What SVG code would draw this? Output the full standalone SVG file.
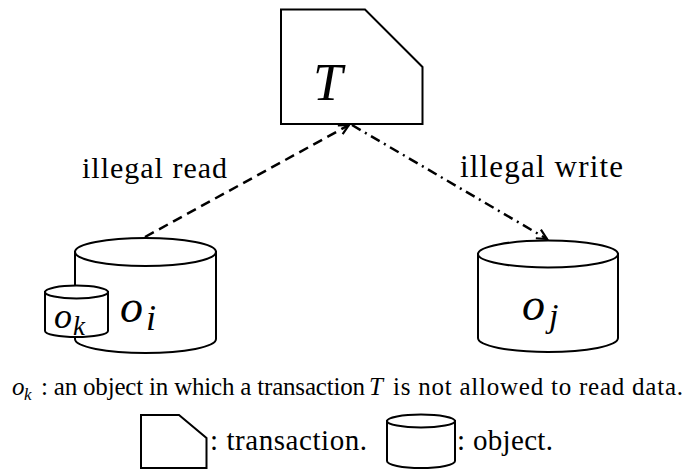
<svg xmlns="http://www.w3.org/2000/svg" width="688" height="472" viewBox="0 0 688 472">
  <defs>
    <style>
      .shape { fill: #fff; stroke: #000; stroke-width: 2; stroke-linejoin: miter; }
      .edge { fill: none; stroke: #000; stroke-width: 2.5; }
      .lbl { font-family: "Liberation Serif", "Times New Roman", serif; fill: #000; }
      .math { font-family: "Liberation Serif", "Times New Roman", serif; font-style: italic; fill: #000; }
    </style>
    <marker id="chev" markerUnits="userSpaceOnUse" markerWidth="14" markerHeight="14" refX="10" refY="5" orient="auto" overflow="visible">
      <path d="M0,0 L10,5 L0,10" fill="none" stroke="#000" stroke-width="2.2"/>
    </marker>
  </defs>

  <rect width="688" height="472" fill="#fff"/>

  <!-- transaction T -->
  <g id="node-T">
    <path class="shape" d="M281,9.5 L365,9.5 L422.5,67 L422.5,124 L281,124 Z"/>
    <text class="math" x="313" y="100" font-size="53">T</text>
  </g>

  <!-- object o_i with nested o_k -->
  <g id="node-oi">
    <path class="shape" d="M75,252 L75,339 A70.5,14 0 0 0 216,339 L216,252 Z"/>
    <ellipse class="shape" cx="145.5" cy="252" rx="70.5" ry="14"/>
    <text class="math" x="120" y="322" font-size="46">o</text>
    <text class="math" x="146" y="330" font-size="36">i</text>
  </g>

  <g id="node-ok">
    <path class="shape" d="M45,292 L45,331 A31.5,6 0 0 0 108,331 L108,292 Z"/>
    <ellipse class="shape" cx="76.5" cy="292" rx="31.5" ry="6.5"/>
    <text class="math" x="54" y="328" font-size="36">o</text>
    <text class="math" x="73" y="335" font-size="27">k</text>
  </g>

  <!-- object o_j -->
  <g id="node-oj">
    <path class="shape" d="M478,254 L478,338 A70,14 0 0 0 618,338 L618,254 Z"/>
    <ellipse class="shape" cx="548" cy="254" rx="70" ry="13.5"/>
    <text class="math" x="522" y="320" font-size="46">o</text>
    <text class="math" x="549" y="327" font-size="34">j</text>
  </g>

  <!-- connectors -->
  <g id="edges">
    <line class="edge" x1="145" y1="237" x2="349" y2="125" stroke-dasharray="10 6" marker-end="url(#chev)"/>
    <line class="edge" x1="352" y1="125" x2="547" y2="239" stroke-dasharray="10 5 2 5" marker-end="url(#chev)"/>
    <text class="lbl" x="82" y="178" font-size="30" textLength="145">illegal read</text>
    <text class="lbl" x="460" y="177" font-size="31" textLength="163">illegal write</text>
  </g>

  <!-- caption -->
  <g id="caption">
    <text class="math" x="12" y="395" font-size="25">o</text>
    <text class="math" x="24" y="400" font-size="17">k</text>
    <text class="lbl" x="41" y="395" font-size="25" textLength="324">: an object in which a transaction</text>
    <text class="math" x="369" y="395" font-size="25">T</text>
    <text class="lbl" x="393" y="395" font-size="25" textLength="290">is not allowed to read data.</text>
  </g>

  <!-- legend -->
  <g id="legend-transaction">
    <path class="shape" d="M141,415 L179,415 L206.5,438 L206.5,468 L141,468 Z"/>
    <text class="lbl" x="210" y="450" font-size="29" textLength="157">: transaction.</text>
  </g>
  <g id="legend-object">
    <path class="shape" d="M387,421 L387,461 A34,7 0 0 0 455,461 L455,421 Z"/>
    <ellipse class="shape" cx="421" cy="421" rx="34" ry="6.5"/>
    <text class="lbl" x="457" y="450" font-size="29" textLength="96">: object.</text>
  </g>
</svg>
